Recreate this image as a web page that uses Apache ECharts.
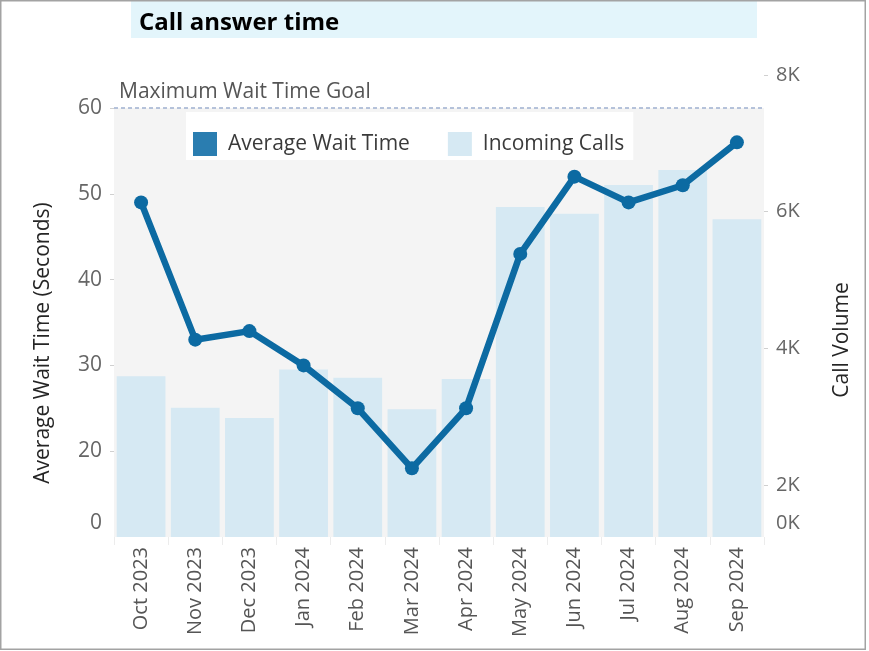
<!DOCTYPE html>
<html>
<head>
<meta charset="utf-8">
<script src="https://cdn.jsdelivr.net/npm/echarts@6/dist/echarts.min.js"></script>
<style>
  html, body { margin: 0; padding: 0; background: #fff; }
  #chart { width: 869px; height: 651px; }
</style>
</head>
<body>
<div id="chart"></div>
<script>
// data
var months = ['Oct 2023', 'Nov 2023', 'Dec 2023', 'Jan 2024', 'Feb 2024', 'Mar 2024',
              'Apr 2024', 'May 2024', 'Jun 2024', 'Jul 2024', 'Aug 2024', 'Sep 2024'];
var avgWait = [49, 33, 34, 30, 25, 18, 25, 43, 52, 49, 51, 56];
var incomingCalls = [3590, 3130, 2980, 3690, 3570, 3110, 3550, 6070, 5970, 6390, 6610, 5890];
var waitGoal = 60;
var waitTicks = [20, 30, 40, 50, 60];
var callTicks = [2000, 4000, 6000, 8000];

var font = 'Open Sans';
var el = document.getElementById('chart');
var chart = echarts.init(el);

// the original axes show a stray zero label just above the plot bottom
var waitZero = 11.6, callZero = 1444;

var option = {
    animation: false,
    backgroundColor: '#fff',
    textStyle: { fontFamily: font },
    title: {
        text: 'Call answer time',
        left: 134, top: 6,
        textStyle: { fontSize: 24, fontWeight: 'bold', color: '#000', fontFamily: font }
    },
    graphic: [
        { type: 'rect', z: -10, shape: { x: 131, y: 0, width: 626, height: 38 }, style: { fill: '#e3f5fb' } },
        { type: 'rect', z: 100, shape: { x: 0.75, y: 0.75, width: 864.5, height: 648.5 },
          style: { fill: null, stroke: '#a3a3a3', lineWidth: 1.5 } }
    ],
    legend: {
        left: 186, top: 112,
        padding: [20, 9, 4, 7],
        backgroundColor: '#fff',
        itemWidth: 24, itemHeight: 24, itemGap: 38,
        textStyle: { fontSize: 21, color: '#3a3a3a', fontFamily: font, padding: [0, 0, 0, 6] },
        data: [
            { name: 'Average Wait Time', icon: 'rect', itemStyle: { color: '#2a7db0' } },
            { name: 'Incoming Calls', icon: 'rect', itemStyle: { color: '#d6e9f3' } }
        ]
    },
    grid: { left: 114, right: 105, top: 75, bottom: 114, outerBoundsMode: 'none' },
    xAxis: {
        type: 'category',
        data: months,
        axisLine: { show: false },
        axisTick: { show: true, length: 8, lineStyle: { color: '#ececec' } },
        axisLabel: { rotate: 90, margin: 10, fontSize: 20, color: '#555', fontFamily: font }
    },
    yAxis: [
        {
            type: 'value',
            min: 10, max: 63.85,
            name: 'Average Wait Time (Seconds)',
            nameLocation: 'middle', nameGap: 60,
            nameTextStyle: { fontSize: 21, color: '#252525', fontFamily: font, padding: [0, 74, 0, 0] },
            splitLine: { show: false },
            axisLine: { show: false },
            axisTick: { show: true, length: 4, lineStyle: { color: '#d0d0d0' }, customValues: waitTicks },
            axisLabel: {
                fontSize: 21, color: '#666', margin: 12, fontFamily: font,
                customValues: [waitZero].concat(waitTicks),
                formatter: function (v) { return v < 15 ? '0' : String(v); }
            }
        },
        {
            type: 'value',
            min: 1239, max: 8000,
            name: 'Call Volume',
            nameLocation: 'middle', nameGap: 68,
            nameTextStyle: { fontSize: 21, color: '#252525', fontFamily: font, padding: [0, 68, 0, 0] },
            splitLine: { show: false },
            axisLine: { show: false },
            axisTick: { show: true, length: 4, lineStyle: { color: '#d0d0d0' }, customValues: callTicks },
            axisLabel: {
                fontSize: 20, color: '#666', margin: 12, fontFamily: font,
                customValues: [callZero].concat(callTicks),
                formatter: function (v) { return v < 1500 ? '0K' : (v / 1000) + 'K'; }
            }
        }
    ],
    series: [
        {
            name: 'Incoming Calls',
            type: 'bar',
            yAxisIndex: 1,
            data: incomingCalls,
            barCategoryGap: '10%',
            itemStyle: { color: '#d6e9f3' },
            z: 2
        },
        {
            name: 'Average Wait Time',
            type: 'line',
            yAxisIndex: 0,
            data: avgWait,
            symbol: 'circle', symbolSize: 14,
            lineStyle: { width: 6.5, color: '#0c6aa2' },
            itemStyle: { color: '#0c6aa2' },
            z: 5,
            markArea: {
                silent: true,
                itemStyle: { color: '#f4f4f4' },
                data: [[{ yAxis: 10 }, { yAxis: waitGoal }]]
            },
            markLine: {
                silent: true,
                symbol: 'none',
                lineStyle: { type: [4, 3], color: '#9fb0cf', width: 1.5 },
                label: {
                    position: 'insideStartTop', distance: [5, 6],
                    formatter: 'Maximum Wait Time Goal',
                    fontSize: 21, color: '#555', fontFamily: font
                },
                data: [{ yAxis: waitGoal }]
            }
        }
    ]
};

chart.setOption(option);
</script>
</body>
</html>
